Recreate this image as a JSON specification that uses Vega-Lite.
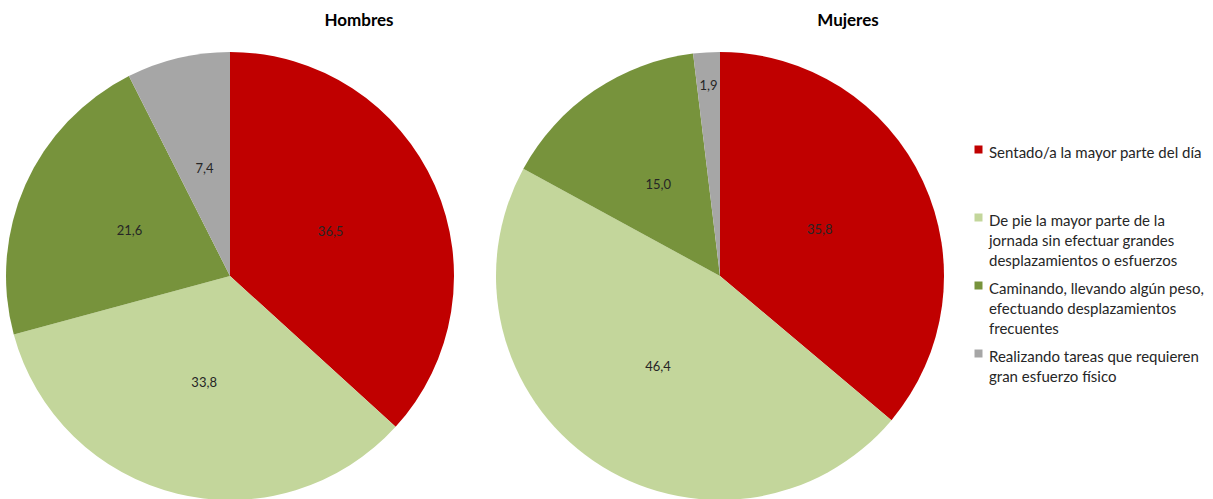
{
  "$schema": "https://vega.github.io/schema/vega-lite/v6.json",
  "background": "white",
  "padding": {"left": 0, "top": 12, "right": 0, "bottom": 0},
  "config": {
    "view": {"stroke": null},
    "font": "Lato",
    "locale": {"number": {"decimal": ",", "thousands": ".", "grouping": [3], "currency": ["", " €"]}},
    "title": {"font": "Lato", "fontSize": 17, "fontWeight": "bold", "color": "#000000", "offset": 6}
  },
  "data": {
    "values": [
      {"sexo": "Hombres", "categoria": "Sentado/a la mayor parte del día", "orden": 1, "valor": 36.5},
      {"sexo": "Hombres", "categoria": "De pie la mayor parte de la jornada sin efectuar grandes desplazamientos o esfuerzos", "orden": 2, "valor": 33.8},
      {"sexo": "Hombres", "categoria": "Caminando, llevando algún peso, efectuando desplazamientos frecuentes", "orden": 3, "valor": 21.6},
      {"sexo": "Hombres", "categoria": "Realizando tareas que requieren gran esfuerzo físico", "orden": 4, "valor": 7.4},
      {"sexo": "Mujeres", "categoria": "Sentado/a la mayor parte del día", "orden": 1, "valor": 35.8},
      {"sexo": "Mujeres", "categoria": "De pie la mayor parte de la jornada sin efectuar grandes desplazamientos o esfuerzos", "orden": 2, "valor": 46.4},
      {"sexo": "Mujeres", "categoria": "Caminando, llevando algún peso, efectuando desplazamientos frecuentes", "orden": 3, "valor": 15.0},
      {"sexo": "Mujeres", "categoria": "Realizando tareas que requieren gran esfuerzo físico", "orden": 4, "valor": 1.9}
    ]
  },
  "spacing": 30,
  "resolve": {"scale": {"theta": "independent"}},
  "hconcat": [
    {
      "width": 460,
      "height": 480,
      "title": {"text": "Hombres", "dx": 129},
      "transform": [{"filter": "datum.sexo === 'Hombres'"}],
      "encoding": {
        "theta": {"field": "valor", "type": "quantitative", "stack": "normalize"},
        "order": {"field": "orden", "type": "quantitative"}
      },
      "layer": [
        {
          "mark": {"type": "arc", "outerRadius": 224},
          "encoding": {
            "color": {
              "field": "categoria", "type": "nominal",
              "scale": {
                "domain": ["Sentado/a la mayor parte del día", "De pie la mayor parte de la jornada sin efectuar grandes desplazamientos o esfuerzos", "Caminando, llevando algún peso, efectuando desplazamientos frecuentes", "Realizando tareas que requieren gran esfuerzo físico"],
                "range": ["#C00000", "#C3D69B", "#77933C", "#A6A6A6"]
              },
              "legend": {
                "title": null,
                "orient": "none",
                "legendX": 971,
                "legendY": 106,
                "symbolType": "square",
                "symbolSize": 64,
                "symbolStrokeWidth": 0,
                "labelFont": "Lato",
                "labelFontSize": 15,
                "labelBaseline": "top",
                "labelColor": "#262626",
                "labelOffset": 3,
                "labelLimit": 400,
                "rowPadding": 9,
                "labelExpr": "indexof(datum.label, 'Sentado') == 0 ? ['Sentado/a la mayor parte del día', '', ''] : indexof(datum.label, 'De pie') == 0 ? ['De pie la mayor parte de la', 'jornada sin efectuar grandes', 'desplazamientos o esfuerzos'] : indexof(datum.label, 'Caminando') == 0 ? ['Caminando, llevando algún peso,', 'efectuando desplazamientos', 'frecuentes'] : ['Realizando tareas que requieren', 'gran esfuerzo físico']",
                "encode": {"labels": {"update": {"lineHeight": {"value": 20}, "dy": {"value": -4}}}}
              }
            }
          }
        },
        {
          "mark": {"type": "text", "radius": 110, "fontSize": 13, "font": "Lato"},
          "encoding": {
            "detail": {"field": "categoria"},
            "color": {"value": "#262626"},
            "text": {"condition": {"test": "datum.valor >= 5", "field": "valor", "type": "quantitative", "format": ".1f"}, "value": ""}
          }
        },
        {
          "mark": {"type": "text", "radius": 190, "fontSize": 13, "font": "Lato"},
          "encoding": {
            "detail": {"field": "categoria"},
            "color": {"value": "#262626"},
            "text": {"condition": {"test": "datum.valor < 5", "field": "valor", "type": "quantitative", "format": ".1f"}, "value": ""}
          }
        }
      ]
    },
    {
      "width": 460,
      "height": 480,
      "title": {"text": "Mujeres", "dx": 128},
      "transform": [{"filter": "datum.sexo === 'Mujeres'"}],
      "encoding": {
        "theta": {"field": "valor", "type": "quantitative", "stack": "normalize"},
        "order": {"field": "orden", "type": "quantitative"}
      },
      "layer": [
        {
          "mark": {"type": "arc", "outerRadius": 224},
          "encoding": {
            "color": {"field": "categoria", "type": "nominal"}
          }
        },
        {
          "mark": {"type": "text", "radius": 110, "fontSize": 13, "font": "Lato"},
          "encoding": {
            "detail": {"field": "categoria"},
            "color": {"value": "#262626"},
            "text": {"condition": {"test": "datum.valor >= 5", "field": "valor", "type": "quantitative", "format": ".1f"}, "value": ""}
          }
        },
        {
          "mark": {"type": "text", "radius": 190, "fontSize": 13, "font": "Lato"},
          "encoding": {
            "detail": {"field": "categoria"},
            "color": {"value": "#262626"},
            "text": {"condition": {"test": "datum.valor < 5", "field": "valor", "type": "quantitative", "format": ".1f"}, "value": ""}
          }
        }
      ]
    }
  ]
}
